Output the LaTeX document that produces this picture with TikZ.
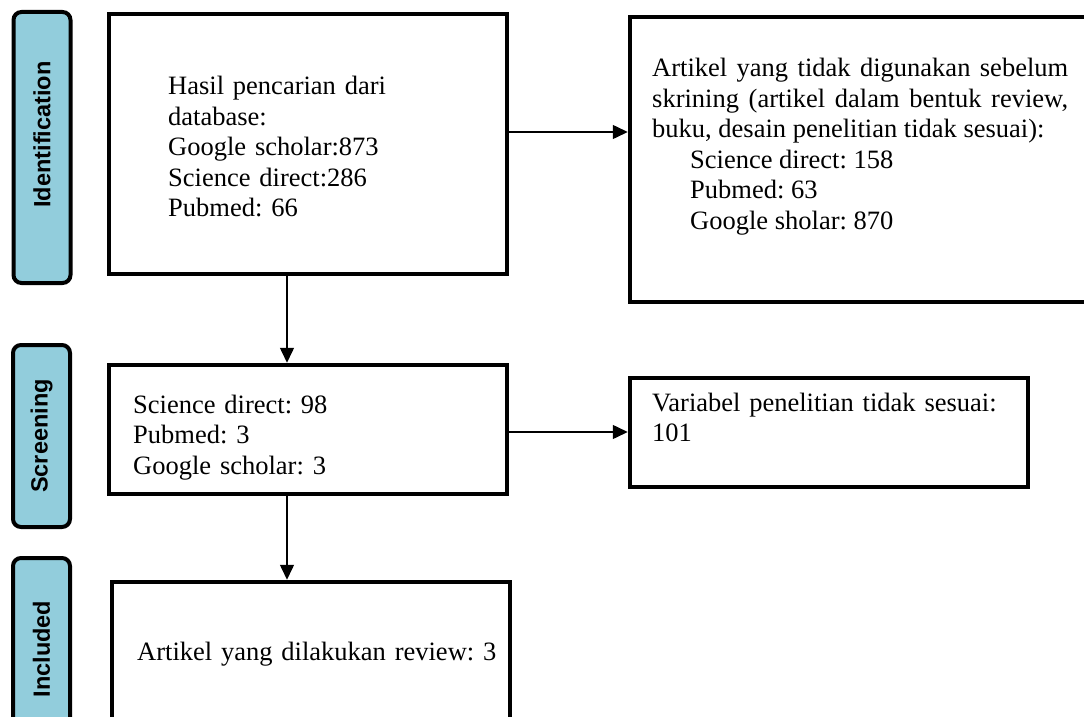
\documentclass[tikz,border=0pt]{standalone}
\usepackage{fontspec}
\setmainfont{Liberation Serif}
\newfontfamily\lblfont{Liberation Sans}
\usepackage{tikz}
\usetikzlibrary{arrows.meta,positioning}
\frenchspacing
\definecolor{phasecol}{HTML}{92CDDC}
\tikzset{
  phasebox/.style={draw=black,line width=4pt,rounded corners=8pt,fill=phasecol,inner sep=0pt,
    font=\lblfont\bfseries\fontsize{23.5pt}{28pt}\selectfont},
  flowbox/.style={draw=black,line width=4.5pt,inner sep=0pt},
  flowtxt/.style={inner sep=0pt,text width=380pt,align=left,font=\fontsize{26.5pt}{30.5pt}\selectfont},
  flowarrow/.style={line width=1.5pt,-{Triangle[length=15pt,width=14pt]}}
}
\newcommand{\phaselbl}[4]{\node[phasebox,rotate=90,minimum width=#3,minimum height=57pt] (#2) at (#1) {#4};}
\newcommand{\flowbox}[4]{\node[flowbox,minimum width=#3,minimum height=#4] (#2) at (#1) {};}
\newcommand{\flowtxt}[3]{\node[flowtxt,anchor=base west] (#2) at (#1) {#3};}

\begin{document}
\begin{tikzpicture}[x=1pt,y=-1pt]
\clip (0,0) rectangle (1084,717);

% phase labels on the left
\phaselbl{42,147.5}{ident}{271pt}{\hspace*{26pt}Identification}
\phaselbl{41.5,436}{screen}{182pt}{Screening}
\phaselbl{41.5,649}{incl}{182pt}{Included}

% identification
\flowbox{308,144}{search}{398pt}{260pt}
\flowtxt{168,95}{searchtxt}{Hasil pencarian dari\\database:\\Google scholar:873\\Science direct:286\\Pubmed: 66}
\flowbox{861,159.5}{excl1}{462pt}{285pt}
\node[flowtxt,text width=416pt,align=justify,anchor=base west] (excl1txt) at (652,77)
  {Artikel yang tidak digunakan sebelum\linebreak skrining (artikel dalam bentuk review,\linebreak buku, desain penelitian tidak sesuai):\\
   \hspace*{38pt}Science direct: 158\\
   \hspace*{38pt}Pubmed: 63\\
   \hspace*{38pt}Google sholar: 870};

% screening
\flowbox{308,429.5}{screened}{398pt}{129pt}
\flowtxt{133,413}{screenedtxt}{Science direct: 98\\Pubmed: 3\\Google scholar: 3}
\flowbox{829,432.5}{excl2}{398pt}{109pt}
\flowtxt{652,411}{excl2txt}{Variabel penelitian tidak sesuai:\\101}

% included
\flowbox{311,663}{review}{398pt}{162pt}
\flowtxt{137,660}{reviewtxt}{Artikel yang dilakukan review: 3}

% connectors
\draw[flowarrow] ([yshift=12pt]search.east) -- ([yshift=12pt]search.east -| excl1.west);
\draw[flowarrow] ([xshift=-21pt]search.south) -- ([xshift=-21pt]search.south |- screened.north);
\draw[flowarrow] ([yshift=-2.5pt]screened.east) -- ([yshift=-2.5pt]screened.east -| excl2.west);
\draw[flowarrow] ([xshift=-21pt]screened.south) -- ([xshift=-21pt]screened.south |- review.north);
\end{tikzpicture}
\end{document}
